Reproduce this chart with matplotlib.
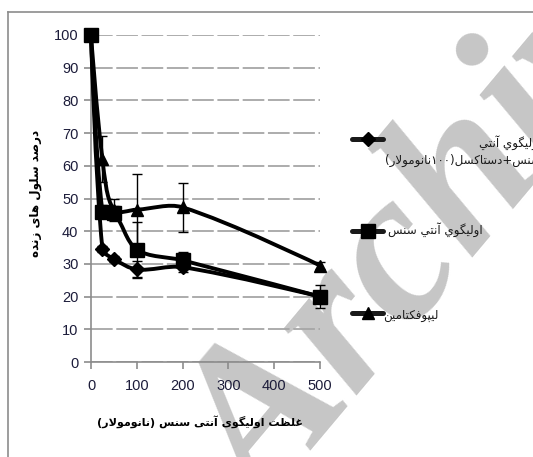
import math
import matplotlib
matplotlib.use("Agg")
import matplotlib.pyplot as plt
from matplotlib.path import Path
from matplotlib.patches import PathPatch
from matplotlib.lines import Line2D

# ---------------- data ----------------
conc = [0, 25, 50, 100, 200, 500]
combo = [100, 34.5, 31.5, 28.3, 29.0, 20.0]          # oligo antisense + docetaxel (diamond)
combo_err = [0, 1.0, 1.0, 2.7, 1.5, 1.0]
oligo = [100, 46.0, 45.6, 34.4, 31.1, 20.0]          # oligo antisense (square)
oligo_err = [0, 2.0, 2.0, 8.5, 2.6, 3.6]
lipo = [100, 62.0, 46.5, 46.6, 47.3, 29.5]           # lipofectamine (triangle)
lipo_err = [0, 7.0, 3.5, 11.0, 7.5, 1.0]
xticks = [0, 100, 200, 300, 400, 500]
yticks = list(range(0, 101, 10))

# ---------------- minimal Arabic-script shaping ----------------
FORMS = {
    '\u0627': ('\uFE8D', '\uFE8E', None, None),
    '\u0622': ('\uFE81', '\uFE82', None, None),
    '\u0628': ('\uFE8F', '\uFE90', '\uFE91', '\uFE92'),
    '\u062A': ('\uFE95', '\uFE96', '\uFE97', '\uFE98'),
    '\u062F': ('\uFEA9', '\uFEAA', None, None),
    '\u0631': ('\uFEAD', '\uFEAE', None, None),
    '\u0632': ('\uFEAF', '\uFEB0', None, None),
    '\u0633': ('\uFEB1', '\uFEB2', '\uFEB3', '\uFEB4'),
    '\u0635': ('\uFEB9', '\uFEBA', '\uFEBB', '\uFEBC'),
    '\u0638': ('\uFEC5', '\uFEC6', '\uFEC7', '\uFEC8'),
    '\u063A': ('\uFECD', '\uFECE', '\uFECF', '\uFED0'),
    '\u0641': ('\uFED1', '\uFED2', '\uFED3', '\uFED4'),
    '\u0644': ('\uFEDD', '\uFEDE', '\uFEDF', '\uFEE0'),
    '\u0645': ('\uFEE1', '\uFEE2', '\uFEE3', '\uFEE4'),
    '\u0646': ('\uFEE5', '\uFEE6', '\uFEE7', '\uFEE8'),
    '\u0647': ('\uFEE9', '\uFEEA', '\uFEEB', '\uFEEC'),
    '\u0648': ('\uFEED', '\uFEEE', None, None),
    '\u064A': ('\uFEF1', '\uFEF2', '\uFEF3', '\uFEF4'),
    '\u06CC': ('\uFBFC', '\uFBFD', '\uFBFE', '\uFBFF'),
    '\u06A9': ('\uFB8E', '\uFB8F', '\uFB90', '\uFB91'),
    '\u06AF': ('\uFB92', '\uFB93', '\uFB94', '\uFB95'),
    '\u067E': ('\uFB56', '\uFB57', '\uFB58', '\uFB59'),
}
LAM_ALEF = {'\u0627': ('\uFEFB', '\uFEFC'), '\u0622': ('\uFEF5', '\uFEF6')}


def _dual(c):
    return c in FORMS and FORMS[c][2] is not None


def _shape(s):
    out, i, n = [], 0, len(s)
    while i < n:
        c = s[i]
        if c not in FORMS:
            out.append(c)
            i += 1
            continue
        cp = i > 0 and _dual(s[i - 1])
        if c == '\u0644' and i + 1 < n and s[i + 1] in LAM_ALEF:
            out.append(LAM_ALEF[s[i + 1]][1 if cp else 0])
            i += 2
            continue
        nxt = s[i + 1] if i + 1 < n else ''
        cn = _dual(c) and nxt in FORMS
        iso, fin, ini, med = FORMS[c]
        out.append(med if (cp and cn) else fin if cp else ini if cn else iso)
        i += 1
    return out


def rtl(s):
    g = _shape(s)[::-1]
    mirror = {'(': ')', ')': '('}
    g = [mirror.get(c, c) for c in g]
    res, run = [], []
    for c in g:
        if c.isdigit():
            run.append(c)
        else:
            res.extend(run[::-1])
            run = []
            res.append(c)
    res.extend(run[::-1])
    return ''.join(res)


ylabel = "درصد سلول های زنده"
xlabel = "غلظت اولیگوی آنتی سنس (نانومولار)"
leg1_a = "اولیگوي آنتي"
leg1_b = "سنس+دستاکسل(۱۰۰نانومولار)"
leg2 = "اولیگوي آنتي سنس"
leg3 = "لیپوفکتامین"

AR = ['DejaVu Sans']
NUM = ['Liberation Sans Narrow', 'Liberation Sans', 'DejaVu Sans']

W, H = 533, 457
fig = plt.figure(figsize=(W / 100, H / 100), dpi=100)


def fx(px):
    return px / W


def fy(py):
    return 1 - py / H


# watermark (behind the chart content)
fig.text(fx(266), fy(518), "Archive", rotation=50, rotation_mode='anchor',
         ha='left', va='baseline', fontsize=156, fontweight='bold',
         fontstyle='italic', family=['Liberation Serif', 'DejaVu Serif'],
         color='#c6c6c6', zorder=-5)

ax = fig.add_axes([fx(91), fy(362), fx(320) - fx(91), fy(35) - fy(362)])
ax.patch.set_visible(False)
ax.set_xlim(0, 500)
ax.set_ylim(0, 100)

for s in ['top', 'right']:
    ax.spines[s].set_visible(False)
for s in ['left', 'bottom']:
    ax.spines[s].set_color('#8c8c8c')
    ax.spines[s].set_linewidth(1.2)

ax.set_xticks(xticks)
ax.set_yticks(yticks)
ax.tick_params(axis='both', colors='#8c8c8c', length=5, width=1.2,
               labelcolor='#1c1c3a', labelsize=10.5)
ax.tick_params(axis='x', pad=7)
ax.tick_params(axis='y', pad=4)
for lab in ax.get_xticklabels() + ax.get_yticklabels():
    lab.set_family(NUM)

ax.yaxis.grid(True, color='#a6a6a6', linewidth=1.3, linestyle=(0, (12, 2)))
ax.set_axisbelow(True)


def smooth_path(xs, ys):
    pts = list(zip(xs, ys))
    scr = [tuple(ax.transData.transform(p)) for p in pts]
    n = len(pts)

    def dist(a, b):
        return math.hypot(scr[a][0] - scr[b][0], scr[a][1] - scr[b][1]) + 1e-9

    verts = [pts[0]]
    codes = [Path.MOVETO]
    for i in range(n - 1):
        i0 = max(i - 1, 0)
        i3 = min(i + 2, n - 1)
        p0, p1, p2, p3 = pts[i0], pts[i], pts[i + 1], pts[i3]
        d01, d12, d23 = dist(i0, i), dist(i, i + 1), dist(i + 1, i3)
        f1 = d12 / (d01 + d12) / 3 if i > 0 else 0
        f2 = d12 / (d12 + d23) / 3 if i + 2 < n else 0
        c1 = (p1[0] + (p2[0] - p0[0]) * f1, p1[1] + (p2[1] - p0[1]) * f1)
        c2 = (p2[0] - (p3[0] - p1[0]) * f2, p2[1] - (p3[1] - p1[1]) * f2)
        verts += [c1, c2, p2]
        codes += [Path.CURVE4] * 3
    return Path(verts, codes)


series = [
    (combo, combo_err, 'D', 7),
    (oligo, oligo_err, 's', 10),
    (lipo, lipo_err, '^', 9),
]
for ys, err, mk, ms in series:
    ax.errorbar(conc, ys, yerr=err, fmt='none', ecolor='black',
                elinewidth=1.0, capsize=3.5, capthick=1.0, zorder=3, clip_on=False)
    ax.add_patch(PathPatch(smooth_path(conc, ys), facecolor='none',
                           edgecolor='black', linewidth=2.8, zorder=4,
                           clip_on=False, capstyle='round', joinstyle='round'))
    ax.plot(conc, ys, ls='none', marker=mk, ms=ms, color='black',
            zorder=5, clip_on=False)

# axis titles
fig.text(fx(200), fy(422), rtl(xlabel), ha='center', va='center',
         fontsize=8, fontweight='bold', family=AR, color='black')
fig.text(fx(35), fy(193), rtl(ylabel), ha='center', va='center',
         rotation=90, fontsize=8.6, fontweight='bold', family=AR, color='black')

# legend (manual)
legend_items = [
    (139, 'D', 7, rtl(leg1_a) + "\n" + rtl(leg1_b), 385, 151),
    (231, 's', 10, rtl(leg2), 388, 230),
    (313, '^', 9, rtl(leg3), 383, 315),
]
for ly, mk, ms, txt, tx, ty in legend_items:
    fig.add_artist(Line2D([fx(352), fx(383)], [fy(ly), fy(ly)], color='#1a1a1a',
                          linewidth=3.6, solid_capstyle='round'))
    fig.add_artist(Line2D([fx(368)], [fy(ly)], marker=mk, ms=ms, color='black'))
    fig.text(fx(tx), fy(ty), txt, ha='left', va='center', multialignment='right',
             fontsize=8.6, family=AR, color='#1a1a1a', linespacing=1.45)

# chart border
fig.add_artist(Line2D([fx(8), fx(8)], [fy(12), 0], color='#8c8c8c', linewidth=1.2))
fig.add_artist(Line2D([fx(8), 1], [fy(12), fy(12)], color='#8c8c8c', linewidth=1.2))

fig.savefig('out.png', dpi=100)
